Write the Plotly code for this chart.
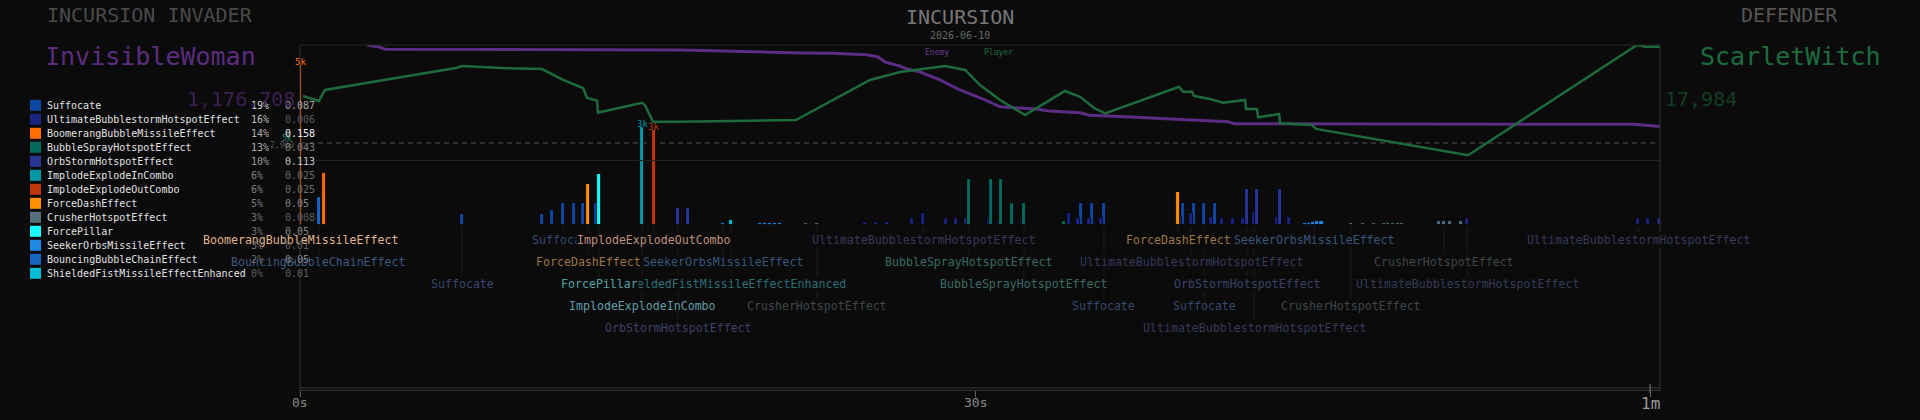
import plotly.graph_objects as go

W, H = 1920, 420
BG = '#0b0b0b'
FONT = 'DejaVu Sans Mono'

# ---------------- data ----------------
skills = ['Suffocate', 'UltimateBubblestormHotspotEffect', 'BoomerangBubbleMissileEffect',
          'BubbleSprayHotspotEffect', 'OrbStormHotspotEffect', 'ImplodeExplodeInCombo',
          'ImplodeExplodeOutCombo', 'ForceDashEffect', 'CrusherHotspotEffect', 'ForcePillar',
          'SeekerOrbsMissileEffect', 'BouncingBubbleChainEffect', 'ShieldedFistMissileEffectEnhanced']
skill_abbr = ['Suf', 'Ult', 'Boo', 'BSp', 'Orb', 'IIn', 'IOu', 'FDa', 'Cru', 'FPi', 'See', 'Bou', 'Shi']
skill_share = [19, 16, 14, 13, 10, 6, 6, 5, 3, 3, 3, 2, 0]
skill_rate = [0.087, 0.006, 0.158, 0.043, 0.113, 0.025, 0.025, 0.05, 0.008, 0.05, 0.01, 0.05, 0.01]

enemy_name, enemy_total = 'InvisibleWoman', '1,176,708'
player_name, player_total = 'ScarletWitch', '17,984'
threshold_hp = 14.8
threshold_label = '2,960'

# HP in percent over time (s)
enemy_t = [2.98, 3.47, 3.78, 14.31, 16.89, 22.22, 23.64, 25.2, 25.69, 26.0, 26.67, 26.98, 27.56,
           28.44, 29.33, 30.44, 31.11, 32.71, 33.29, 34.67, 35.07, 36.67, 38.04, 39.42, 41.24,
           41.51, 59.29, 60.49]
enemy_hp = [100, 98.5, 96.3, 96.3, 95.7, 93.0, 92.8, 91.6, 89.6, 85.2, 81.7, 79.1, 76.5,
            69.6, 60.9, 52.2, 46.3, 44.3, 42.6, 41.1, 38.9, 37.7, 36.3, 34.8, 33.3,
            31.6, 31.0, 29.0]

player_t = [0.13, 0.84, 1.11, 6.98, 7.2, 8.98, 10.76, 11.42, 11.69, 12.58, 12.76, 13.2, 13.24,
            13.42, 15.2, 15.33, 15.69, 16.89, 22.04, 25.33, 26.67, 28.67, 29.56, 30.22, 31.11,
            32.22, 34.0, 34.67, 35.29, 35.78, 39.07, 39.24, 39.64, 39.73, 40.44, 41.02, 41.51,
            42.0, 42.04, 42.53, 42.58, 43.51, 43.56, 44.98, 45.16, 51.91, 59.42, 59.78, 60.49]
player_hp = [55.7, 51.3, 60.9, 80.3, 81.7, 80.0, 79.1, 72.4, 69.6, 62.6, 53.9, 51.6, 41.1,
             42.0, 49.8, 47.8, 33.3, 33.3, 34.8, 69.6, 76.5, 81.7, 78.3, 65.2, 52.2,
             39.1, 60.0, 55.0, 45.2, 40.6, 63.7, 59.4, 59.4, 55.7, 53.0, 49.8, 51.3,
             52.2, 44.3, 44.3, 37.1, 40.0, 31.9, 30.4, 27.0, 4.1, 100, 98.5, 98.5]

# individual hits: time (s), damage, skill
hit_t = [0.0, 0.84, 1.07, 7.2, 10.76, 11.2, 11.69, 12.18, 12.58, 12.8, 13.16, 13.29, 15.2, 15.73,
         16.8, 17.24, 18.8, 19.16, 20.44, 20.67, 20.89, 21.11, 21.33, 22.49, 22.98,
         25.11, 25.6, 26.09, 27.2, 27.69, 28.71, 29.16, 29.6, 29.73, 30.62, 30.71, 31.07, 31.16,
         31.64, 32.09, 32.18, 33.96, 34.18, 34.58, 34.71, 35.07, 35.2, 35.6, 35.73,
         39.02, 39.1, 39.24, 39.6, 39.73, 40.18, 40.49, 40.67, 40.98, 41.47, 41.91, 42.09, 42.4,
         42.53, 43.42, 43.56, 43.96, 44.67, 44.84, 45.02, 45.2, 45.4,
         46.71, 47.24, 47.73, 48.18, 48.36, 48.58, 48.8, 48.98, 50.62, 50.84, 51.11, 51.6, 51.87,
         59.47, 59.91, 60.4]
hit_dmg = [5000, 880, 1630, 340, 340, 470, 700, 700, 700, 1280, 700, 1600, 3060, 2970,
           540, 540, 70, 160, 70, 70, 70, 70, 70, 60, 60,
           100, 100, 100, 230, 380, 230, 230, 230, 1440, 230, 1440, 100, 1440,
           700, 100, 700, 120, 380, 230, 680, 230, 680, 230, 680,
           1040, 240, 680, 380, 680, 680, 240, 680, 230, 230, 230, 1130, 420,
           1130, 260, 1130, 260, 70, 70, 90, 110, 140,
           60, 60, 60, 60, 60, 60, 60, 60, 140, 140, 140, 140, 230,
           230, 230, 230]
hit_skill = ['Boo', 'Bou', 'Boo', 'Suf', 'Suf', 'Suf', 'Suf', 'Suf', 'Suf', 'FDa', 'Suf', 'FPi', 'IIn', 'IOu',
             'Orb', 'Orb', 'See', 'Shi', 'See', 'See', 'See', 'See', 'See', 'Cru', 'Cru',
             'Ult', 'Ult', 'Ult', 'Ult', 'Ult', 'Ult', 'Ult', 'Ult', 'BSp', 'Ult', 'BSp', 'Ult', 'BSp',
             'BSp', 'Ult', 'BSp', 'BSp', 'Ult', 'Ult', 'Suf', 'Ult', 'Suf', 'Ult', 'Suf',
             'FDa', 'Ult', 'Suf', 'Ult', 'Suf', 'Suf', 'Ult', 'Suf', 'Ult', 'Ult', 'Ult', 'Orb', 'Ult',
             'Orb', 'Ult', 'Orb', 'Ult', 'See', 'See', 'See', 'See', 'See',
             'Cru', 'Cru', 'Cru', 'Cru', 'Cru', 'Cru', 'Cru', 'Cru', 'Cru', 'Cru', 'Cru', 'Cru', 'Ult',
             'Ult', 'Ult', 'Ult']

big_hit_t = [0.0, 15.2, 15.73]
big_hit_dmg = [5000, 3060, 2970]
big_hit_text = ['5k', '3k', '3k']
big_hit_skill = ['Boo', 'IIn', 'IOu']

# hit labels (drawn in this order)
label_skill = ['Boo', 'Bou', 'Suf', 'Suf', 'FDa', 'IOu', 'Shi', 'FPi', 'IIn', 'Orb', 'See', 'Cru',
               'Ult', 'BSp', 'BSp', 'Suf', 'FDa', 'Ult', 'Suf', 'Orb', 'Ult', 'See', 'Cru', 'Cru',
               'Ult', 'Ult']
label_t = [0.0, 0.84, 7.2, 11.69, 12.8, 15.73, 19.16, 13.29, 15.2, 16.8, 18.8, 22.98,
           27.69, 29.73, 32.18, 35.73, 39.02, 39.6, 40.18, 42.09, 42.4, 45.07, 46.71, 50.84,
           51.87, 59.47]

timeline_ticks = [0, 30, 60]
timeline_text = ['0s', '30s', '1m']

# ---------------- style ----------------
skill_color = {'Suf': '#0d47a1', 'Ult': '#1a237e', 'Boo': '#ff6d00', 'BSp': '#00695c', 'Orb': '#283593',
               'IIn': '#0097a7', 'IOu': '#bf360c', 'FDa': '#ff8f00', 'Cru': '#546e7a', 'FPi': '#18ffff',
               'See': '#1e88e5', 'Bou': '#1565c0', 'Shi': '#00bcd4'}
label_color = {'Suf': '#36496e', 'Ult': '#363a58', 'Boo': '#e0b48e', 'BSp': '#3b6b63', 'Orb': '#3c4168',
               'IIn': '#5f9ea6', 'IOu': '#c0907c', 'FDa': '#9c7643', 'Cru': '#40474b', 'FPi': '#4fa3a3',
               'See': '#36587c', 'Bou': '#3e5a80', 'Shi': '#2b7079'}
label_row_y = [240, 262, 284, 240, 262, 240, 284, 284, 306, 328, 262, 306,
               240, 262, 284, 306, 240, 262, 306, 284, 328, 240, 306, 262,
               284, 240]

X0, X1 = 300, 1660          # plot pixels on screen
T_MAX = 60.44


def px(x):
    return x / W


def py(y):
    return 1 - y / H


def grey(v):
    v = int(max(0, min(255, v)))
    return '#%02x%02x%02x' % (v, v, v)


fig = go.Figure()

# bars
for ab in skill_abbr:
    xs = [t for t, s in zip(hit_t, hit_skill) if s == ab]
    ys = [d for d, s in zip(hit_dmg, hit_skill) if s == ab]
    if not xs:
        continue
    fig.add_trace(go.Bar(x=xs, y=ys, width=0.19, xaxis='x', yaxis='y2',
                         marker=dict(color=skill_color[ab], line=dict(color='#000000', width=0.8)),
                         showlegend=False, hoverinfo='skip'))

# HP lines
fig.add_trace(go.Scatter(x=[0, T_MAX], y=[threshold_hp, threshold_hp], mode='lines', xaxis='x', yaxis='y',
                         line=dict(color='#555555', width=1, dash='5px,4px'), showlegend=False, hoverinfo='skip'))
fig.add_trace(go.Scatter(x=enemy_t, y=enemy_hp, mode='lines', xaxis='x', yaxis='y',
                         line=dict(color='#5b2c83', width=3), showlegend=False, hoverinfo='skip'))
fig.add_trace(go.Scatter(x=player_t, y=player_hp, mode='lines', xaxis='x', yaxis='y',
                         line=dict(color='#1d6b3c', width=2.5), showlegend=False, hoverinfo='skip'))

shapes = []
annotations = []

# frame
shapes.append(dict(type='line', xref='paper', yref='paper', x0=px(X0), x1=px(X1), y0=py(45), y1=py(45),
                   line=dict(color='#262626', width=1)))
shapes.append(dict(type='line', xref='paper', yref='paper', x0=px(X0), x1=px(X1), y0=py(160.5), y1=py(160.5),
                   line=dict(color='#222222', width=1)))
shapes.append(dict(type='line', xref='paper', yref='paper', x0=px(X0), x1=px(X0), y0=py(45), y1=py(393),
                   line=dict(color='#333333', width=1)))
shapes.append(dict(type='line', xref='paper', yref='paper', x0=px(X1), x1=px(X1), y0=py(45), y1=py(390),
                   line=dict(color='#333333', width=1)))
shapes.append(dict(type='line', xref='paper', yref='paper', x0=px(X0), x1=px(X1), y0=py(388), y1=py(388),
                   line=dict(color='#3a3a3a', width=1)))
shapes.append(dict(type='line', xref='x', yref='paper', x0=60, x1=60, y0=py(384), y1=py(393),
                   line=dict(color='#777777', width=1)))

# leader lines + labels
for ab, t, ry in zip(label_skill, label_t, label_row_y):
    shapes.append(dict(type='line', xref='x', yref='paper', x0=t, x1=t, y0=py(226), y1=py(ry - 7),
                       line=dict(color='#1e1e1e', width=1), layer='below'))
for ab, t, ry in zip(label_skill, label_t, label_row_y):
    nm = skills[skill_abbr.index(ab)]
    annotations.append(dict(xref='x', yref='paper', x=t, y=py(ry), text=nm, showarrow=False,
                            xanchor='center', yanchor='middle', bgcolor=BG, borderpad=0,
                            font=dict(family=FONT, size=11.6, color=label_color[ab])))

# big hit labels
for t, d, tx, ab in zip(big_hit_t, big_hit_dmg, big_hit_text, big_hit_skill):
    annotations.append(dict(xref='x', yref='y2', x=t, y=d, text=tx, showarrow=False, yshift=3,
                            xanchor='center', yanchor='middle',
                            font=dict(family=FONT, size=9, color=skill_color[ab])))

# timeline tick labels
for tv, tt in zip(timeline_ticks, timeline_text):
    big = tv == timeline_ticks[-1]
    annotations.append(dict(xref='x', yref='paper', x=tv, y=py(403.5 if big else 402), text=tt,
                            showarrow=False, xanchor='center', yanchor='middle',
                            font=dict(family=FONT, size=16 if big else 13, color='#9a9a9a' if big else '#8a8a8a')))

# threshold labels
annotations.append(dict(xref='paper', yref='paper', x=px(296), y=py(145), text=threshold_label,
                        xanchor='right', yanchor='middle', showarrow=False,
                        font=dict(family=FONT, size=8, color='#555555')))
annotations.append(dict(xref='paper', yref='paper', x=px(287), y=py(139), text='5k',
                        xanchor='center', yanchor='middle', showarrow=False,
                        font=dict(family=FONT, size=8, color='#1f8a6a')))

# legend
for i, (nm, ab, sh, rt) in enumerate(zip(skills, skill_abbr, skill_share, skill_rate)):
    cy = 105.3 + 14.0 * i
    shapes.append(dict(type='rect', xref='paper', yref='paper', x0=px(30), x1=px(41),
                       y0=py(cy - 5.5), y1=py(cy + 5.5), fillcolor=skill_color[ab], line=dict(width=0)))
    annotations.append(dict(xref='paper', yref='paper', x=px(45), y=py(cy), text=nm, xanchor='left',
                            yanchor='middle', showarrow=False,
                            font=dict(family=FONT, size=10, color='#e2e2e2')))
    annotations.append(dict(xref='paper', yref='paper', x=px(249), y=py(cy), text='%d%%' % sh, xanchor='left',
                            yanchor='middle', showarrow=False,
                            font=dict(family=FONT, size=10, color=grey(95 + 112 * sh / 19))))
    annotations.append(dict(xref='paper', yref='paper', x=px(283), y=py(cy), text=('%g' % rt), xanchor='left',
                            yanchor='middle', showarrow=False,
                            font=dict(family=FONT, size=10, color=grey(85 + 153 * rt / 0.158))))


# headers
def txt(x, y, s, size, color, anchor='center'):
    annotations.append(dict(xref='paper', yref='paper', x=px(x), y=py(y), text=s, xanchor=anchor,
                            yanchor='middle', showarrow=False, font=dict(family=FONT, size=size, color=color)))


txt(150, 15, 'INCURSION INVADER', 20, '#4a4a4a')
txt(150, 57, enemy_name, 25, '#5b2d7f')
txt(297, 99, enemy_total, 20, '#3a2150', 'right')
txt(960, 17, 'INCURSION', 20, '#777777')
txt(960, 35, '2026-06-10', 10, '#666666')
txt(937, 52, 'Enemy', 8, '#6b3a8f')
txt(999, 52, 'Player', 8, '#1f6b3f')
txt(1789, 15, 'DEFENDER', 20, '#555555')
txt(1790, 57, player_name, 25, '#1e6b3e')
txt(1663, 99, player_total, 20, '#153d24', 'left')

fig.update_layout(
    width=W, height=H, margin=dict(l=0, r=0, t=0, b=0),
    paper_bgcolor=BG, plot_bgcolor='rgba(0,0,0,0)', barmode='overlay', bargap=0,
    showlegend=False,
    xaxis=dict(domain=[px(X0), px(X1)], range=[0, T_MAX], anchor='free', position=py(390),
               showline=True, linecolor='#333333', linewidth=1, ticks='outside', ticklen=6,
               tickcolor='#666666', tickvals=timeline_ticks, showticklabels=False,
               showgrid=False, zeroline=False),
    yaxis=dict(domain=[py(160), py(45)], range=[0, 100], anchor='x', visible=False, showgrid=False),
    yaxis2=dict(domain=[py(225), py(45)], range=[0, 5625], anchor='x', visible=False, showgrid=False),
    shapes=shapes, annotations=annotations,
)

fig.write_html('out.html')
